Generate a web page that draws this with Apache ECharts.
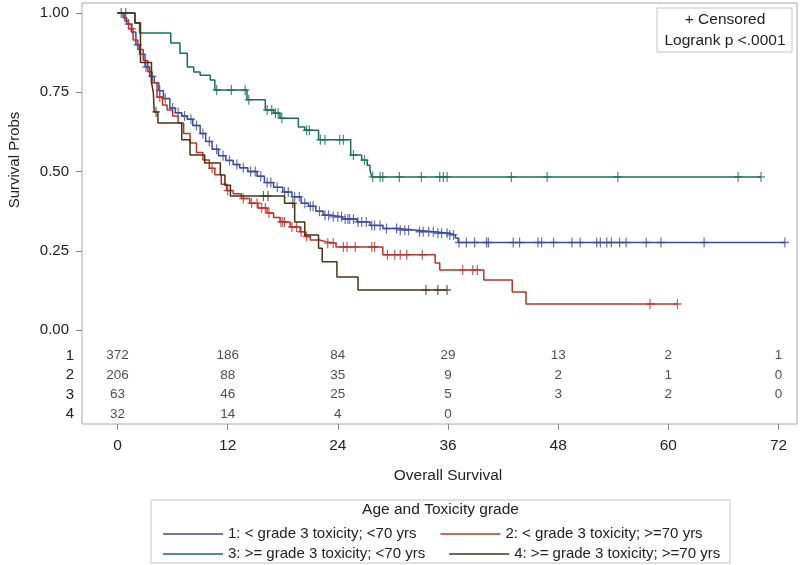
<!DOCTYPE html>
<html>
<head>
<meta charset="utf-8">
<script src="https://cdn.jsdelivr.net/npm/echarts@6/dist/echarts.min.js"></script>
<style>html,body{margin:0;padding:0;background:#fff;}#chart{width:800px;height:565px;}</style>
</head>
<body>
<div id="chart"></div>
<script>
// ---- data ----
const tickTimes = [0, 12, 24, 36, 48, 60, 72];
const riskRows = ['1', '2', '3', '4'];
const groupNames = [
  '1: < grade 3 toxicity; <70 yrs',
  '2: < grade 3 toxicity; >=70 yrs',
  '3: >= grade 3 toxicity; <70 yrs',
  '4: >= grade 3 toxicity; >=70 yrs'
];
const groupColors = ['#3b4c9c', '#c0302a', '#1a6e55', '#4a3215'];

const g1Time = [0, 0.6, 1.0, 1.5, 2.0, 2.4, 3.0, 3.5, 4.0, 4.5, 5.0, 5.7, 6.3, 7.0, 7.6, 8.2, 9.0, 9.6, 10.3, 11.0, 11.8, 12.6, 13.3, 14.2, 15.2, 16.0, 17.0, 18.0, 19.0, 20.0, 20.8, 21.6, 22.4, 23.2, 24.5, 26.1, 27.5, 28.9, 30.5, 32.7, 34.5, 36.2, 36.8, 37.1];
const g1Surv = [1, 0.985, 0.965, 0.94, 0.90, 0.87, 0.83, 0.80, 0.78, 0.755, 0.73, 0.70, 0.685, 0.675, 0.665, 0.645, 0.62, 0.595, 0.57, 0.55, 0.535, 0.522, 0.512, 0.50, 0.485, 0.465, 0.45, 0.435, 0.42, 0.40, 0.39, 0.375, 0.362, 0.357, 0.35, 0.341, 0.33, 0.32, 0.315, 0.31, 0.305, 0.30, 0.29, 0.276];
const g1Cens = [1.2, 2.2, 3.1, 3.8, 4.6, 5.2, 6.0, 6.6, 7.3, 8.0, 8.6, 9.3, 10.0, 10.8, 11.5, 12.2, 13.0, 13.7, 14.5, 15.0, 15.6, 16.3, 16.7, 17.4, 18.2, 18.6, 19.3, 19.8, 20.4, 21.0, 21.3, 22.0, 22.6, 23.0, 23.5, 24.0, 24.4, 24.8, 25.1, 25.3, 25.7, 26.2, 26.6, 27.1, 27.7, 28.0, 28.6, 29.3, 30.4, 30.8, 31.3, 31.7, 32.9, 33.3, 33.9, 34.4, 34.9, 35.3, 35.9, 36.2, 36.6, 37.2, 38.0, 38.9, 40.2, 40.4, 43.1, 43.8, 45.8, 46.2, 47.5, 49.5, 50.4, 52.2, 52.6, 53.3, 53.8, 54.7, 55.4, 57.6, 59.2, 63.9, 72.7];

const g2Time = [0, 0.8, 1.2, 1.7, 2.2, 2.8, 3.3, 3.7, 4.3, 4.9, 5.4, 6.0, 6.6, 7.2, 7.9, 8.6, 9.3, 10.0, 10.6, 11.3, 11.9, 12.6, 13.5, 14.4, 15.3, 16.3, 17.0, 17.7, 18.8, 19.9, 20.4, 21.0, 22.0, 22.8, 23.8, 28.9, 34.6, 35.1, 39.9, 43.0, 44.5];
const g2Surv = [1, 0.975, 0.95, 0.915, 0.885, 0.85, 0.815, 0.78, 0.735, 0.71, 0.694, 0.675, 0.653, 0.62, 0.59, 0.56, 0.536, 0.51, 0.49, 0.46, 0.44, 0.43, 0.415, 0.40, 0.385, 0.369, 0.355, 0.341, 0.325, 0.31, 0.295, 0.284, 0.278, 0.274, 0.262, 0.237, 0.211, 0.189, 0.158, 0.12, 0.082];
const g2Cens = [1.6, 4.6, 10.3, 12.0, 13.7, 14.6, 15.2, 15.7, 16.1, 16.5, 17.8, 18.0, 18.2, 19.0, 19.5, 20.0, 20.6, 22.9, 23.5, 24.6, 25.0, 25.9, 27.7, 28.0, 29.4, 30.2, 30.8, 31.5, 33.2, 37.6, 38.7, 39.2, 58.0, 61.0];

const g3Time = [0, 1.9, 2.4, 5.8, 6.8, 7.6, 8.3, 9.0, 10.1, 10.6, 14.1, 16.1, 17.0, 17.7, 19.7, 20.4, 21.9, 25.4, 26.6, 27.2, 27.5, 27.7];
const g3Surv = [1, 0.968, 0.937, 0.905, 0.873, 0.83, 0.814, 0.804, 0.789, 0.757, 0.726, 0.694, 0.684, 0.668, 0.64, 0.63, 0.60, 0.552, 0.536, 0.52, 0.504, 0.483];
const g3Cens = [0.4, 0.9, 10.8, 12.4, 13.9, 14.3, 16.3, 16.8, 17.2, 17.5, 17.9, 20.6, 20.9, 22.1, 22.6, 24.2, 24.6, 25.7, 26.9, 27.8, 28.6, 28.9, 30.7, 33.1, 35.1, 35.5, 35.9, 42.9, 46.8, 54.5, 67.6, 70.1];

const g4Time = [0, 1.9, 2.5, 3.7, 3.9, 4.0, 4.4, 7.0, 7.9, 9.5, 11.2, 11.7, 12.3, 18.2, 19.3, 20.4, 21.9, 22.3, 23.9, 26.2];
const g4Surv = [1, 0.969, 0.844, 0.781, 0.75, 0.688, 0.653, 0.60, 0.552, 0.527, 0.489, 0.457, 0.423, 0.40, 0.341, 0.30, 0.258, 0.215, 0.167, 0.126];
const g4Cens = [4.2, 15.9, 16.4, 19.1, 33.6, 34.9, 35.9];

const atRisk1 = [372, 186, 84, 29, 13, 2, 1];
const atRisk2 = [206, 88, 35, 9, 2, 1, 0];
const atRisk3 = [63, 46, 25, 5, 3, 2, 0];
const atRisk4 = [32, 14, 4, 0];

// ---- build ----
const groups = [
  {time: g1Time, surv: g1Surv, cens: g1Cens},
  {time: g2Time, surv: g2Surv, cens: g2Cens},
  {time: g3Time, surv: g3Surv, cens: g3Cens},
  {time: g4Time, surv: g4Surv, cens: g4Cens}
];
const atRisk = [atRisk1, atRisk2, atRisk3, atRisk4];

function survAt(g, t) {
  let s = 1;
  for (let i = 0; i < g.time.length; i++) { if (g.time[i] <= t) s = g.surv[i]; }
  return s;
}

const FONT = '"Liberation Sans", Arial, sans-serif';
const series = [];
groups.forEach((g, i) => {
  const pts = g.time.map((t, k) => [t, g.surv[k]]);
  const lastT = Math.max(...g.cens, g.time[g.time.length - 1]);
  pts.push([lastT, g.surv[g.surv.length - 1]]);
  series.push({
    name: groupNames[i], type: 'line', step: 'end', xAxisIndex: 0, yAxisIndex: 0,
    data: pts, showSymbol: false, clip: false, z: 3 + i,
    lineStyle: {width: 1.5, color: groupColors[i]}, itemStyle: {color: groupColors[i]}
  });
  series.push({
    name: 'cens' + (i + 1), type: 'scatter', xAxisIndex: 0, yAxisIndex: 0, clip: false, z: 3 + i,
    symbol: 'path://M4,0h1.4v4.3h4v1.4h-4v4.3h-1.4v-4.3h-4v-1.4h4z',
    symbolSize: [8, 10],
    itemStyle: {color: groupColors[i]},
    data: g.cens.map(t => [t, survAt(g, t)])
  });
});

const riskData = [];
atRisk.forEach((arr, i) => {
  arr.forEach((v, k) => riskData.push([tickTimes[k], riskRows[i], v]));
});
series.push({
  name: 'atrisk', type: 'scatter', xAxisIndex: 1, yAxisIndex: 1, symbolSize: 0,
  data: riskData,
  label: {show: true, position: 'inside', formatter: p => String(p.value[2]), fontSize: 13.5, color: '#222', fontFamily: FONT}
});

const option = {
  animation: false,
  backgroundColor: '#fff',
  textStyle: {fontFamily: FONT},
  grid: [
    {left: 82, top: 13, width: 715, height: 317},
    {left: 117.5, top: 346, width: 661, height: 78},
    {left: 82, top: 3, width: 715, height: 421, show: true, borderColor: '#a8a8a8', borderWidth: 1, backgroundColor: 'transparent'}
  ],
  xAxis: [
    {gridIndex: 0, type: 'value', min: -3.87, max: 74.02, show: false},
    {gridIndex: 1, type: 'value', min: 0, max: 72, interval: 12,
      axisLine: {show: false, onZero: false}, axisTick: {show: true, length: 6, lineStyle: {color: '#888'}},
      axisLabel: {fontSize: 15.5, color: '#222', margin: 14}, splitLine: {show: false},
      name: 'Overall Survival', nameLocation: 'middle', nameGap: 44,
      nameTextStyle: {fontSize: 15.5, color: '#222'}},
    {gridIndex: 2, type: 'value', min: 0, max: 1, show: false}
  ],
  yAxis: [
    {gridIndex: 0, type: 'value', min: 0, max: 1, interval: 0.25,
      axisLine: {show: false, onZero: false}, axisTick: {show: true, length: 6, lineStyle: {color: '#888'}},
      axisLabel: {formatter: v => v.toFixed(2), fontSize: 15, color: '#222', margin: 13},
      splitLine: {show: false}},
    {gridIndex: 1, type: 'category', data: riskRows, inverse: true,
      axisLine: {show: false, onZero: false}, axisTick: {show: false},
      axisLabel: {fontSize: 15, color: '#222', margin: 43.5, interval: 0}, splitLine: {show: false}},
    {gridIndex: 2, type: 'value', min: 0, max: 1, show: false}
  ],
  legend: [
    {data: [groupNames[0], groupNames[1]], left: 158, top: 521, icon: 'rect', itemWidth: 60, itemHeight: 1.5, itemGap: 24,
      textStyle: {fontSize: 15, color: '#222', lineHeight: 16}},
    {data: [groupNames[2], groupNames[3]], left: 158, top: 541, icon: 'rect', itemWidth: 60, itemHeight: 1.5, itemGap: 24,
      textStyle: {fontSize: 15, color: '#222', lineHeight: 16}}
  ],
  graphic: [
    {type: 'rect', shape: {x: 151, y: 500, width: 579, height: 63}, style: {fill: 'none', stroke: '#c4c4c4', lineWidth: 1}, z: 1},
    {type: 'text', x: 440.5, y: 510, style: {text: 'Age and Toxicity grade', font: '15.5px ' + FONT, fill: '#222', textAlign: 'center', textVerticalAlign: 'middle', align: 'center', verticalAlign: 'middle'}},
    {type: 'rect', shape: {x: 657, y: 8, width: 135, height: 44}, style: {fill: '#fff', stroke: '#c4c4c4', lineWidth: 1}, z: 10},
    {type: 'text', x: 725, y: 19.5, z: 11, style: {text: '+ Censored', font: '15.5px ' + FONT, fill: '#222', textAlign: 'center', textVerticalAlign: 'middle', align: 'center', verticalAlign: 'middle'}},
    {type: 'text', x: 725, y: 40.5, z: 11, style: {text: 'Logrank p <.0001', font: '15.5px ' + FONT, fill: '#222', textAlign: 'center', textVerticalAlign: 'middle', align: 'center', verticalAlign: 'middle'}},
    {type: 'text', x: 15, y: 160, rotation: Math.PI / 2, style: {text: 'Survival Probs', font: '15px ' + FONT, fill: '#222', textAlign: 'center', textVerticalAlign: 'middle', align: 'center', verticalAlign: 'middle'}}
  ],
  series: series
};

const chart = echarts.init(document.getElementById('chart'), null, {renderer: 'canvas'});
chart.setOption(option);
</script>
</body>
</html>
